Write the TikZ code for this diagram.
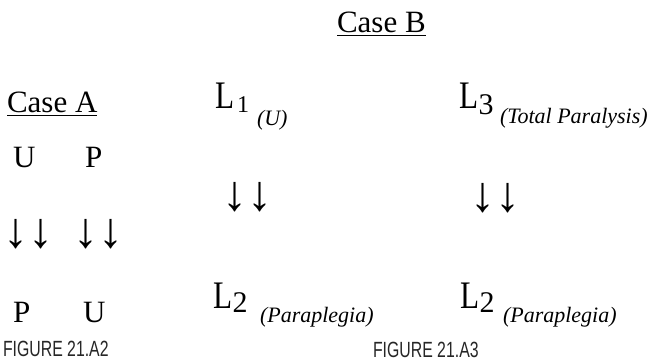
\documentclass[tikz,border=0pt]{standalone}
\usepackage{fontspec}
\setmainfont{Liberation Serif}
\newfontfamily\capfont[FakeStretch=0.72]{Liberation Sans}
\newcommand{\fsz}[1]{\fontsize{#1}{#1}\selectfont}
\newcommand{\narrowL}{\scalebox{0.8}[1]{L}}
\begin{document}
\begin{tikzpicture}[x=1pt,y=-1pt,
  every node/.style={inner sep=0pt,outer sep=0pt,anchor=base west},
  head/.style={font=\fsz{31}},
  letter/.style={font=\fsz{31}},
  ell/.style={font=\fsz{39}},
  note/.style={font=\fsz{22}\itshape},
  arr/.style={font=\fsz{50},anchor=center},
  capt/.style={font=\capfont\fsz{22},text=black!85}]
\useasboundingbox (0,0) rectangle (651,361);
% headings
\node[head] (caseB) at (337,33) {\underline{Case B}};
\node[head] (caseA) at (7,113) {\underline{Case A}};
% Case A
\node[letter] (u1) at (13,167) {U};
\node[letter] (p1) at (85,167) {P};
\node[arr] (a1) at (28,234) {↓↓};
\node[arr] (a2) at (98,234) {↓↓};
\node[letter] (p2) at (13,322) {P};
\node[letter] (u2) at (83,322) {U};
% Case B left column
\node[ell] (l1) at (215,109) {\narrowL\kern3pt\raisebox{-4pt}{\fsz{24}1}};
\node[note] (l1n) at (257,125) {(U)};
\node[arr] (a3) at (247,197) {↓↓};
\node[ell] (l2a) at (213,308) {\narrowL\kern0.5pt\raisebox{-4pt}{\fsz{30}2}};
\node[note] (l2an) at (260,322) {(Paraplegia)};
% Case B right column
\node[ell] (l3) at (459,108) {\narrowL\kern0.5pt\raisebox{-6pt}{\fsz{30}3}};
\node[note] (l3n) at (500,123) {(Total Paralysis)};
\node[arr] (a4) at (495,198) {↓↓};
\node[ell] (l2b) at (460,308) {\narrowL\kern0.5pt\raisebox{-4pt}{\fsz{30}2}};
\node[note] (l2bn) at (503,322) {(Paraplegia)};
% captions
\node[capt] (c1) at (3,356) {FIGURE 21.A2};
\node[capt] (c2) at (373,357) {FIGURE 21.A3};
\end{tikzpicture}
\end{document}
